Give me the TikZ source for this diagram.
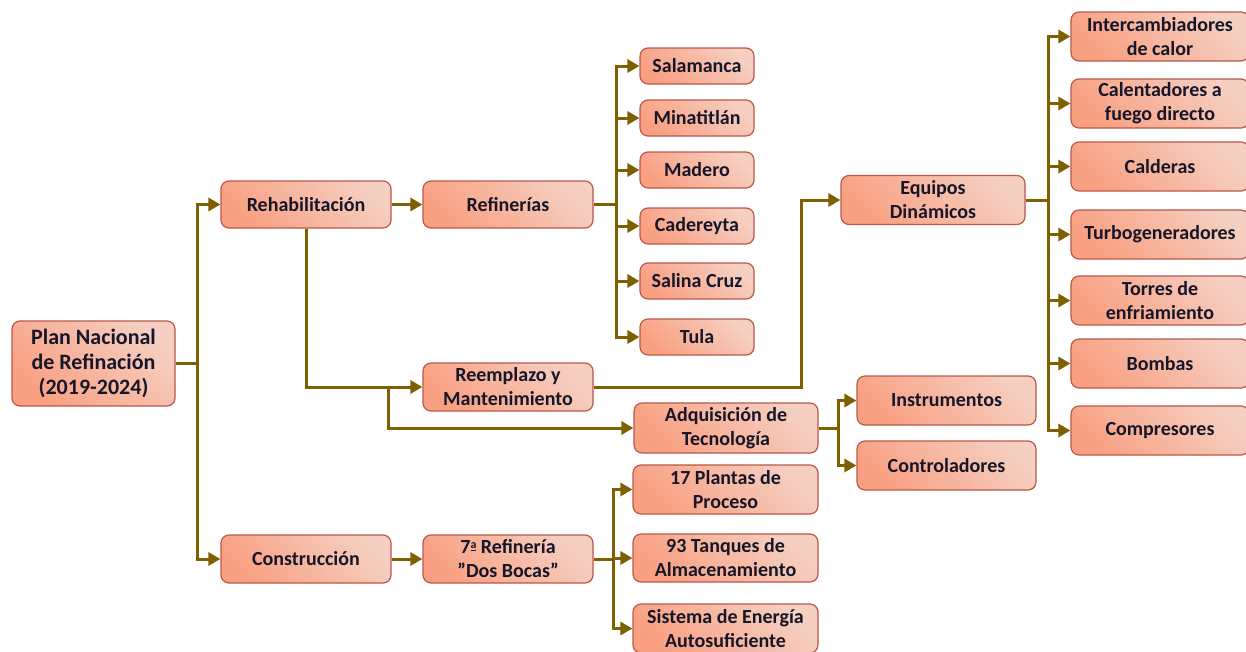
\documentclass[tikz,border=0pt]{standalone}
\usepackage{fontspec}
\setmainfont{Carlito}
\usetikzlibrary{arrows.meta}

\definecolor{boxlight}{HTML}{F5CFC1}
\definecolor{boxdark}{HTML}{F9A082}
\definecolor{boxedge}{HTML}{B9584A}
\definecolor{linkcol}{HTML}{7F6000}
\definecolor{ink}{HTML}{16162A}

\newcommand{\ordA}{\raisebox{5pt}{\underline{\smash{\fontsize{12}{12}\selectfont a}}}}

\tikzset{
  box/.style={draw=boxedge, line width=1.2pt, rounded corners=8pt,
    top color=boxlight, bottom color=boxdark, shading angle=-45,
    text=ink, font=\fontsize{20}{24}\selectfont\bfseries,
    align=center, inner sep=0pt},
  rootbox/.style={box, font=\fontsize{22}{25}\selectfont\bfseries},
  link/.style={draw=linkcol, line width=3pt},
  arr/.style={link, -{Triangle[length=12pt,width=13pt]}},
}

\begin{document}
\begin{tikzpicture}[x=1pt,y=-1pt]
\fill[white] (0,0) rectangle (1246,651);
\useasboundingbox (0,0) rectangle (1246,651);

% root and first level
\node[rootbox, minimum width=163pt, minimum height=85pt] (plan) at (93.5,363.5) {Plan Nacional\\de Refinación\\(2019-2024)};
\node[box, minimum width=170pt, minimum height=47pt] (rehab) at (306,204.5) {Rehabilitación};
\node[box, minimum width=170pt, minimum height=48pt] (constr) at (306,559) {Construcción};

% second level
\node[box, minimum width=170pt, minimum height=47pt] (refin) at (508,204.5) {Refinerías};
\node[box, minimum width=170pt, minimum height=48pt] (reempl) at (508,387) {Reemplazo y\\Mantenimiento};
\node[box, minimum width=170pt, minimum height=48pt] (dosbocas) at (508,559) {7\ordA\ Refinería\\”Dos Bocas”};

% refineries
\foreach \n/\y/\t in {sal/66/Salamanca, min/118/Minatitlán, mad/170/Madero,
                      cad/226/Cadereyta, scz/281/Salina Cruz, tul/337/Tula}
  \node[box, minimum width=114pt, minimum height=36pt] (\n) at (697,\y) {\t};

% equipment and technology
\node[box, minimum width=184pt, minimum height=49pt] (equipos) at (933,200) {Equipos\\Dinámicos};
\node[box, minimum width=184pt, minimum height=50pt] (adq) at (726,428) {Adquisición de\\Tecnología};
\node[box, minimum width=179pt, minimum height=49pt] (instr) at (946.5,400.5) {Instrumentos};
\node[box, minimum width=179pt, minimum height=49pt] (contr) at (946.5,465.5) {Controladores};

% new refinery parts
\node[box, minimum width=185pt, minimum height=49pt] (plantas) at (725.5,489.5) {17 Plantas de\\Proceso};
\node[box, minimum width=185pt, minimum height=48pt] (tanques) at (725.5,558) {93 Tanques de\\Almacenamiento};
\node[box, minimum width=185pt, minimum height=49pt] (sistema) at (725.5,628.5) {Sistema de Energía\\Autosuficiente};

% dynamic equipment
\foreach \n/\y/\t in {inter/36.5/Intercambiadores\\de calor, calen/103.5/Calentadores a\\fuego directo,
                      cald/166.5/Calderas, turbo/234.5/Turbogeneradores,
                      torres/300.5/Torres de\\enfriamiento, bomb/363.5/Bombas, comp/430.5/Compresores}
  \node[box, minimum width=178pt, minimum height=49pt] (\n) at (1160,\y) {\t};

% connectors
\draw[link] (plan.east) -- ++(22,0) coordinate (pbus);
\draw[arr] (pbus) |- (rehab.west);
\draw[arr] (pbus) |- (constr.west);

\draw[arr] (rehab) -- (refin);
\draw[arr] (rehab.south) |- (reempl.west);
\coordinate (rsplit) at (388,387);
\draw[arr] (rsplit) |- (adq.west);

\draw[link] (refin.east) -- ++(23,0) coordinate (rbus);
\foreach \n in {sal,min,mad,cad,scz,tul}
  \draw[arr] (rbus) |- (\n.west);

\coordinate (eturn) at (801,387);
\draw[arr] (reempl.east) -- (eturn) |- (equipos.west);

\draw[link] (equipos.east) -- ++(23,0) coordinate (ebus);
\foreach \n in {inter,calen,cald,turbo,torres,bomb,comp}
  \draw[arr] (ebus) |- (\n.west);

\draw[link] (adq.east) -- ++(20,0) coordinate (abus);
\draw[arr] (abus) |- (instr.west);
\draw[arr] (abus) |- (contr.west);

\draw[arr] (constr) -- (dosbocas);
\draw[link] (dosbocas.east) -- ++(20,0) coordinate (dbus);
\foreach \n in {plantas,tanques,sistema}
  \draw[arr] (dbus) |- (\n.west);
\end{tikzpicture}
\end{document}
